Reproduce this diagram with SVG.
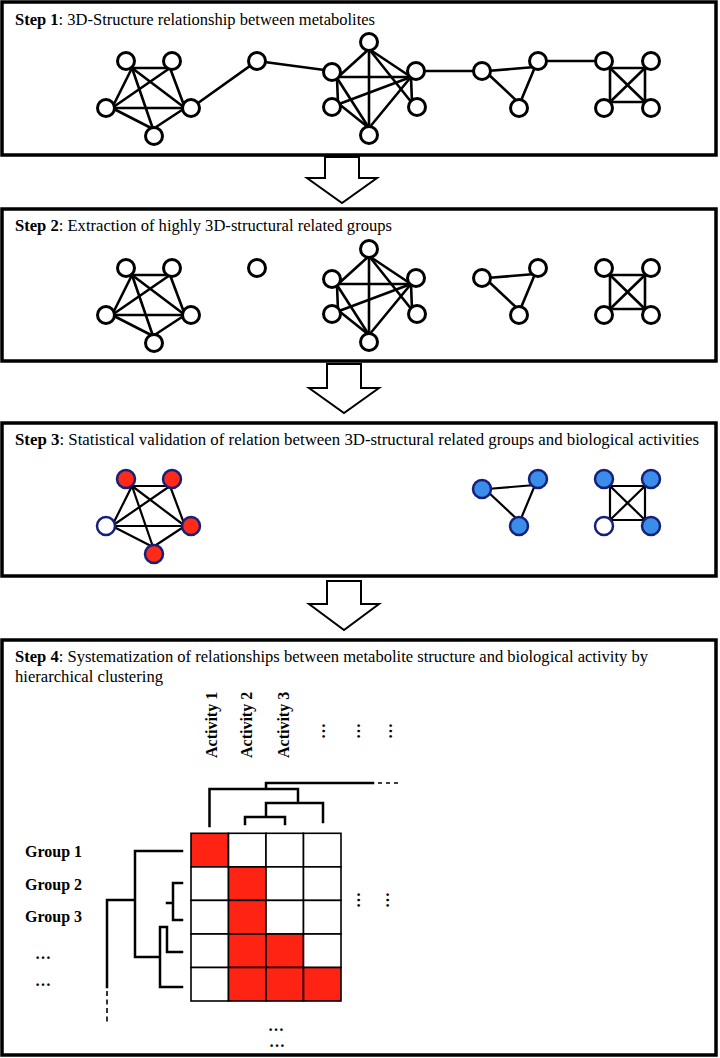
<svg xmlns="http://www.w3.org/2000/svg" xmlns:xlink="http://www.w3.org/1999/xlink" width="720" height="1058" viewBox="0 0 720 1058">
<style>
.bg{fill:#fff}
.box{fill:none;stroke:#000;stroke-width:3.5}
.t{font-family:"Liberation Serif","Times New Roman",serif;font-size:17.5px;fill:#000}
.t3{font-size:16.5px}
.lb{font-family:"Liberation Serif","Times New Roman",serif;font-size:16px;font-weight:bold;fill:#000}
.arrow{fill:#fff;stroke:#000;stroke-width:2;stroke-linejoin:miter}
.e1{stroke:#000;stroke-width:2.6;fill:none;stroke-linecap:round}
.e3{stroke:#000;stroke-width:2.2;fill:none;stroke-linecap:round}
.n circle{fill:#fff;stroke:#000;stroke-width:3}
.c circle{stroke:#16207a;stroke-width:2.5}
.red circle{fill:#ff2a17}
.blue circle{fill:#3a8de8}
.wht circle{fill:#fff}
.cell{fill:#fff;stroke:#000;stroke-width:1.6}
.hit{fill:#ff2314}
.den{stroke:#000;stroke-width:2.5;fill:none;stroke-linecap:square}
.dash{stroke:#000;stroke-width:1.5;fill:none;stroke-dasharray:4 4}
</style>
<defs>
<g id="pentE">
<line x1="132" y1="68" x2="170" y2="68"/>
<line x1="132" y1="68" x2="112" y2="108"/>
<line x1="132" y1="68" x2="153" y2="129"/>
<line x1="132" y1="68" x2="185" y2="108"/>
<line x1="170" y1="68" x2="112" y2="108"/>
<line x1="170" y1="68" x2="185" y2="108"/>
<line x1="112" y1="108" x2="185" y2="108"/>
<line x1="112" y1="108" x2="153" y2="129"/>
<line x1="185" y1="108" x2="153" y2="129"/>
</g>
<g id="hexE">
<line x1="369" y1="49" x2="337" y2="78"/>
<line x1="369" y1="49" x2="411" y2="77"/>
<line x1="369" y1="49" x2="369" y2="128"/>
<line x1="369" y1="49" x2="412" y2="103"/>
<line x1="337" y1="77" x2="411" y2="77"/>
<line x1="337" y1="78" x2="338" y2="104"/>
<line x1="337" y1="78" x2="369" y2="128"/>
<line x1="339" y1="104" x2="411" y2="77"/>
<line x1="339" y1="104" x2="369" y2="128"/>
<line x1="411" y1="77" x2="412" y2="103"/>
<line x1="411" y1="77" x2="369" y2="128"/>
</g>
<g id="triE">
<line x1="487" y1="71" x2="535" y2="67"/>
<line x1="487" y1="73" x2="519" y2="103"/>
<line x1="535" y1="67" x2="520" y2="103"/>
</g>
<g id="sqE">
<line x1="604" y1="68" x2="651" y2="68"/>
<line x1="604" y1="102" x2="651" y2="102"/>
<line x1="610" y1="64" x2="610" y2="105"/>
<line x1="645" y1="64" x2="645" y2="105"/>
<line x1="610" y1="68" x2="645" y2="102"/>
<line x1="645" y1="68" x2="610" y2="102"/>
</g>
</defs>
<rect class="bg" x="0" y="0" width="720" height="1058"/>

<g id="step-boxes">
<rect id="step1-box" class="box" x="2" y="2" width="714" height="153"/>
<rect id="step2-box" class="box" x="2" y="209" width="714" height="152"/>
<rect id="step3-box" class="box" x="2" y="423" width="714" height="153"/>
<rect id="step4-box" class="box" x="2" y="640" width="714" height="415"/>
</g>

<g id="titles">
<text class="t" x="15" y="25" textLength="360" lengthAdjust="spacingAndGlyphs"><tspan font-weight="bold">Step 1</tspan>: 3D-Structure relationship between metabolites</text>
<text class="t" x="15" y="231" textLength="377" lengthAdjust="spacingAndGlyphs"><tspan font-weight="bold">Step 2</tspan>: Extraction of highly 3D-structural related groups</text>
<text class="t t3" x="15" y="445" textLength="684" lengthAdjust="spacingAndGlyphs"><tspan font-weight="bold">Step 3</tspan>: Statistical validation of relation between 3D-structural related groups and biological activities</text>
<text class="t" x="15" y="662" textLength="633" lengthAdjust="spacingAndGlyphs"><tspan font-weight="bold">Step 4</tspan>: Systematization of relationships between metabolite structure and biological activity by</text>
<text class="t" x="15" y="682" textLength="148" lengthAdjust="spacingAndGlyphs">hierarchical clustering</text>
</g>

<g id="arrows">
<polygon id="arrow1" class="arrow" points="325,157 359,157 359,178 377,178 342,203 307,178 325,178"/>
<polygon id="arrow2" class="arrow" points="327,364 361,364 361,388 379,388 344,413 309,388 327,388"/>
<polygon id="arrow3" class="arrow" points="327,581 361,581 361,604 379,604 344,630 309,604 327,604"/>
</g>

<g id="connectors">
<g class="e1">
<use xlink:href="#pentE" href="#pentE"/>
<use xlink:href="#hexE" href="#hexE"/>
<use xlink:href="#triE" href="#triE"/>
<use xlink:href="#sqE" href="#sqE"/>
<line x1="191" y1="108" x2="257" y2="61"/>
<line x1="257" y1="61" x2="332" y2="71"/>
<line x1="416" y1="71" x2="482" y2="71"/>
<line x1="538" y1="61" x2="604" y2="61"/>
<use xlink:href="#pentE" href="#pentE" y="207"/>
<use xlink:href="#hexE" href="#hexE" y="207"/>
<use xlink:href="#triE" href="#triE" y="207"/>
<use xlink:href="#sqE" href="#sqE" y="207"/>
</g>
<g class="e3">
<use xlink:href="#pentE" href="#pentE" y="418"/>
<use xlink:href="#triE" href="#triE" y="418"/>
<use xlink:href="#sqE" href="#sqE" y="418"/>
</g>
</g>

<g id="nodes-step1" class="n">
<g id="s1-p-tl"><circle cx="126" cy="61" r="8.5"/></g>
<g id="s1-p-tr"><circle cx="172" cy="61" r="8.5"/></g>
<g id="s1-p-l"><circle cx="106" cy="108" r="8.5"/></g>
<g id="s1-p-r"><circle cx="191" cy="108" r="8.5"/></g>
<g id="s1-p-b"><circle cx="154" cy="136" r="8.5"/></g>
<g id="s1-single"><circle cx="257" cy="61" r="8.5"/></g>
<g id="s1-h-t"><circle cx="369" cy="42" r="8.5"/></g>
<g id="s1-h-ul"><circle cx="332" cy="72" r="8.5"/></g>
<g id="s1-h-ur"><circle cx="416" cy="71" r="8.5"/></g>
<g id="s1-h-ll"><circle cx="332" cy="107" r="8.5"/></g>
<g id="s1-h-lr"><circle cx="417" cy="107" r="8.5"/></g>
<g id="s1-h-b"><circle cx="369" cy="135" r="8.5"/></g>
<g id="s1-t-l"><circle cx="482" cy="71" r="8.5"/></g>
<g id="s1-t-tr"><circle cx="538" cy="61" r="8.5"/></g>
<g id="s1-t-b"><circle cx="519" cy="108" r="8.5"/></g>
<g id="s1-q-tl"><circle cx="604" cy="61" r="8.5"/></g>
<g id="s1-q-tr"><circle cx="651" cy="61" r="8.5"/></g>
<g id="s1-q-bl"><circle cx="604" cy="108" r="8.5"/></g>
<g id="s1-q-br"><circle cx="651" cy="108" r="8.5"/></g>
</g>

<g id="nodes-step2" class="n">
<g id="s2-p-tl"><circle cx="126" cy="268" r="8.5"/></g>
<g id="s2-p-tr"><circle cx="172" cy="268" r="8.5"/></g>
<g id="s2-p-l"><circle cx="106" cy="315" r="8.5"/></g>
<g id="s2-p-r"><circle cx="191" cy="315" r="8.5"/></g>
<g id="s2-p-b"><circle cx="154" cy="343" r="8.5"/></g>
<g id="s2-single"><circle cx="257" cy="268" r="8.5"/></g>
<g id="s2-h-t"><circle cx="369" cy="249" r="8.5"/></g>
<g id="s2-h-ul"><circle cx="332" cy="279" r="8.5"/></g>
<g id="s2-h-ur"><circle cx="416" cy="278" r="8.5"/></g>
<g id="s2-h-ll"><circle cx="332" cy="314" r="8.5"/></g>
<g id="s2-h-lr"><circle cx="417" cy="314" r="8.5"/></g>
<g id="s2-h-b"><circle cx="369" cy="342" r="8.5"/></g>
<g id="s2-t-l"><circle cx="482" cy="278" r="8.5"/></g>
<g id="s2-t-tr"><circle cx="538" cy="268" r="8.5"/></g>
<g id="s2-t-b"><circle cx="519" cy="315" r="8.5"/></g>
<g id="s2-q-tl"><circle cx="604" cy="268" r="8.5"/></g>
<g id="s2-q-tr"><circle cx="651" cy="268" r="8.5"/></g>
<g id="s2-q-bl"><circle cx="604" cy="315" r="8.5"/></g>
<g id="s2-q-br"><circle cx="651" cy="315" r="8.5"/></g>
</g>

<g id="nodes-step3" class="c">
<g id="s3-p-tl" class="red"><circle cx="126" cy="479" r="9"/></g>
<g id="s3-p-tr" class="red"><circle cx="172" cy="479" r="9"/></g>
<g id="s3-p-l" class="wht"><circle cx="106" cy="526" r="9"/></g>
<g id="s3-p-r" class="red"><circle cx="191" cy="526" r="9"/></g>
<g id="s3-p-b" class="red"><circle cx="154" cy="554" r="9"/></g>
<g id="s3-t-l" class="blue"><circle cx="482" cy="489" r="9"/></g>
<g id="s3-t-tr" class="blue"><circle cx="538" cy="479" r="9"/></g>
<g id="s3-t-b" class="blue"><circle cx="519" cy="526" r="9"/></g>
<g id="s3-q-tl" class="blue"><circle cx="604" cy="479" r="9"/></g>
<g id="s3-q-tr" class="blue"><circle cx="651" cy="479" r="9"/></g>
<g id="s3-q-bl" class="wht"><circle cx="604" cy="526" r="9"/></g>
<g id="s3-q-br" class="blue"><circle cx="651" cy="526" r="9"/></g>
</g>

<g id="activity-labels">
<text class="lb" transform="translate(217,758) rotate(-90)">Activity 1</text>
<text class="lb" transform="translate(252,758) rotate(-90)">Activity 2</text>
<text class="lb" transform="translate(289,758) rotate(-90)">Activity 3</text>
<text class="lb" text-anchor="middle" transform="translate(324.5,731) rotate(-90)">…</text>
<text class="lb" text-anchor="middle" transform="translate(359.5,731) rotate(-90)">…</text>
<text class="lb" text-anchor="middle" transform="translate(391.5,731) rotate(-90)">…</text>
</g>

<g id="group-labels">
<text class="lb" x="25" y="857">Group 1</text>
<text class="lb" x="25" y="890">Group 2</text>
<text class="lb" x="25" y="922">Group 3</text>
<text class="lb" x="35" y="958.5">…</text>
<text class="lb" x="35" y="985.5">…</text>
</g>

<g id="heatmap">
<rect class="cell hit" x="191" y="833.3" width="37.5" height="33.6"/>
<rect class="cell" x="228.5" y="833.3" width="37.5" height="33.6"/>
<rect class="cell" x="266" y="833.3" width="37.5" height="33.6"/>
<rect class="cell" x="303.5" y="833.3" width="37.5" height="33.6"/>
<rect class="cell" x="191" y="866.9" width="37.5" height="33.5"/>
<rect class="cell hit" x="228.5" y="866.9" width="37.5" height="33.5"/>
<rect class="cell" x="266" y="866.9" width="37.5" height="33.5"/>
<rect class="cell" x="303.5" y="866.9" width="37.5" height="33.5"/>
<rect class="cell" x="191" y="900.4" width="37.5" height="33.6"/>
<rect class="cell hit" x="228.5" y="900.4" width="37.5" height="33.6"/>
<rect class="cell" x="266" y="900.4" width="37.5" height="33.6"/>
<rect class="cell" x="303.5" y="900.4" width="37.5" height="33.6"/>
<rect class="cell" x="191" y="934" width="37.5" height="33.5"/>
<rect class="cell hit" x="228.5" y="934" width="37.5" height="33.5"/>
<rect class="cell hit" x="266" y="934" width="37.5" height="33.5"/>
<rect class="cell" x="303.5" y="934" width="37.5" height="33.5"/>
<rect class="cell" x="191" y="967.5" width="37.5" height="33.5"/>
<rect class="cell hit" x="228.5" y="967.5" width="37.5" height="33.5"/>
<rect class="cell hit" x="266" y="967.5" width="37.5" height="33.5"/>
<rect class="cell hit" x="303.5" y="967.5" width="37.5" height="33.5"/>
</g>

<g id="dendrogram-columns">
<path class="den" d="M266,783 H373 M266,783 V789 M209.5,826 V789 H298 V803 M266,803 H323 V822 M266,803 V817 M245,824 V817 H285 V824"/>
<line class="dash" x1="378" y1="783" x2="400" y2="783"/>
</g>

<g id="dendrogram-rows">
<path class="den" d="M182,851 H135 V957 H160 M107,900 H135 M160,927 V987 H182 M160,927 H167 V952 H182 M167,903 H173 V883 H182 M173,903 V920 H182 M107,900 V987"/>
<line class="dash" x1="107" y1="991" x2="107" y2="1024" style="stroke-width:1.6;stroke-dasharray:5 3.5"/>
</g>

<g id="more-labels">
<text class="lb" text-anchor="middle" transform="translate(359.5,900) rotate(-90)">…</text>
<text class="lb" text-anchor="middle" transform="translate(388.5,900) rotate(-90)">…</text>
<text class="lb" x="276" y="1031" text-anchor="middle">…</text>
<text class="lb" x="277" y="1047" text-anchor="middle">…</text>
</g>
</svg>
